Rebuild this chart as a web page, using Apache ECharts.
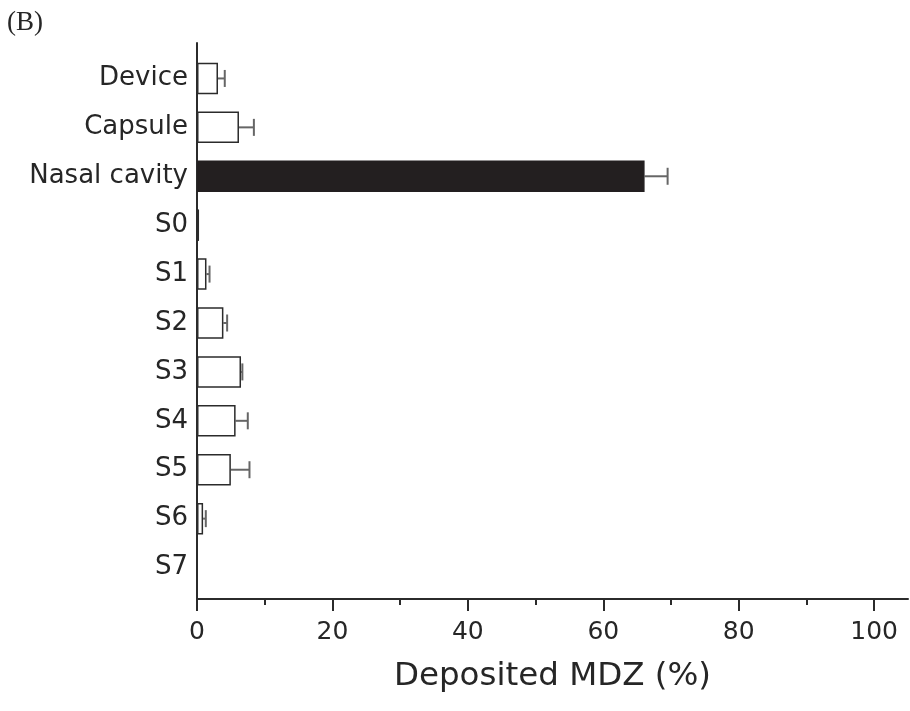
<!DOCTYPE html>
<html>
<head>
<meta charset="utf-8">
<script src="https://cdn.jsdelivr.net/npm/echarts@6/dist/echarts.min.js"></script>
<style>
html,body{margin:0;padding:0;background:#fff;}
#chart{width:910px;height:711px;}
</style>
</head>
<body>
<div id="chart"></div>
<script>
const categories = ['Device', 'Capsule', 'Nasal cavity', 'S0', 'S1', 'S2', 'S3', 'S4', 'S5', 'S6', 'S7'];
const means = [3.1, 6.2, 66.1, 0.3, 1.4, 3.9, 6.5, 5.7, 5.0, 0.9, 0];
const errors = [1.0, 2.2, 3.4, 0, 0.45, 0.55, 0.2, 1.8, 2.75, 0.4, 0];
const filledCategories = ['Nasal cavity'];
const xMajorTicks = [0, 20, 40, 60, 80, 100];
const xMinorTicks = [10, 30, 50, 70, 90];
const xMin = 0, xMax = 105;
const panelLabel = '(B)';
const xTitle = 'Deposited MDZ (%)';

const axisColor = '#2b2b2b';
const textColor = '#262626';
const sans = 'DejaVu Sans';

const chart = echarts.init(document.getElementById('chart'));

const barData = categories.map((c, i) => ({
  value: means[i],
  itemStyle: filledCategories.includes(c)
    ? { color: '#231f20', borderColor: '#231f20', borderWidth: 1.5 }
    : { color: '#ffffff', borderColor: axisColor, borderWidth: means[i] > 0 ? 1.5 : 0 }
}));

const errData = categories.map((c, i) => [means[i], i, means[i] + errors[i]]);

chart.setOption({
  animation: false,
  backgroundColor: '#ffffff',
  title: {
    text: panelLabel,
    left: 7, top: 9, padding: 0,
    textStyle: { fontFamily: 'Liberation Serif', fontSize: 27, fontWeight: 'normal', color: textColor }
  },
  grid: [
    { left: 197, right: 2, top: 43, bottom: 112, containLabel: false },
    { left: 197, right: 2, top: 54, bottom: 119, containLabel: false }
  ],
  xAxis: [
    {
      gridIndex: 0, type: 'value', min: xMin, max: xMax, position: 'bottom',
      axisLine: { show: true, onZero: false, lineStyle: { color: axisColor, width: 2 } },
      axisTick: { show: true, customValues: xMajorTicks, length: 12, inside: false, lineStyle: { color: axisColor, width: 2 } },
      axisLabel: { show: true, customValues: xMajorTicks, margin: 21, fontFamily: sans, fontSize: 25, color: textColor },
      splitLine: { show: false },
      name: xTitle, nameLocation: 'middle', nameGap: 61,
      nameTextStyle: { fontFamily: sans, fontSize: 32.5, color: textColor }
    },
    {
      gridIndex: 0, type: 'value', min: xMin, max: xMax, position: 'bottom',
      axisLine: { show: false },
      axisTick: { show: true, customValues: xMinorTicks, length: 6, inside: false, lineStyle: { color: axisColor, width: 2 } },
      axisLabel: { show: false },
      splitLine: { show: false }
    },
    {
      gridIndex: 1, type: 'value', min: xMin, max: xMax, show: false,
      splitLine: { show: false }
    }
  ],
  yAxis: [
    {
      gridIndex: 0, type: 'value', min: 0, max: 1,
      axisLine: { show: true, onZero: false, lineStyle: { color: axisColor, width: 2 } },
      axisTick: { show: false }, axisLabel: { show: false }, splitLine: { show: false }
    },
    {
      gridIndex: 1, type: 'category', data: categories, inverse: true,
      axisLine: { show: false }, axisTick: { show: false }, splitLine: { show: false },
      axisLabel: { margin: 9, fontFamily: sans, fontSize: 26, color: textColor }
    }
  ],
  series: [
    {
      type: 'custom',
      xAxisIndex: 2, yAxisIndex: 1,
      data: errData,
      encode: { x: [0, 2], y: 1 },
      z: 1,
      renderItem: function (params, api) {
        const v = api.value(0), idx = api.value(1), e = api.value(2);
        if (!(e > v)) return null;
        const s = api.coord([v, idx]);
        const t = api.coord([e, idx]);
        const style = { stroke: '#666', lineWidth: 2, fill: null };
        return {
          type: 'group',
          children: [
            { type: 'line', shape: { x1: s[0], y1: s[1], x2: t[0], y2: t[1] }, style: style },
            { type: 'line', shape: { x1: t[0], y1: t[1] - 8.5, x2: t[0], y2: t[1] + 8.5 }, style: style }
          ]
        };
      }
    },
    {
      type: 'bar',
      xAxisIndex: 2, yAxisIndex: 1,
      data: barData,
      barWidth: 31.5,
      z: 2
    }
  ]
});
</script>
</body>
</html>
